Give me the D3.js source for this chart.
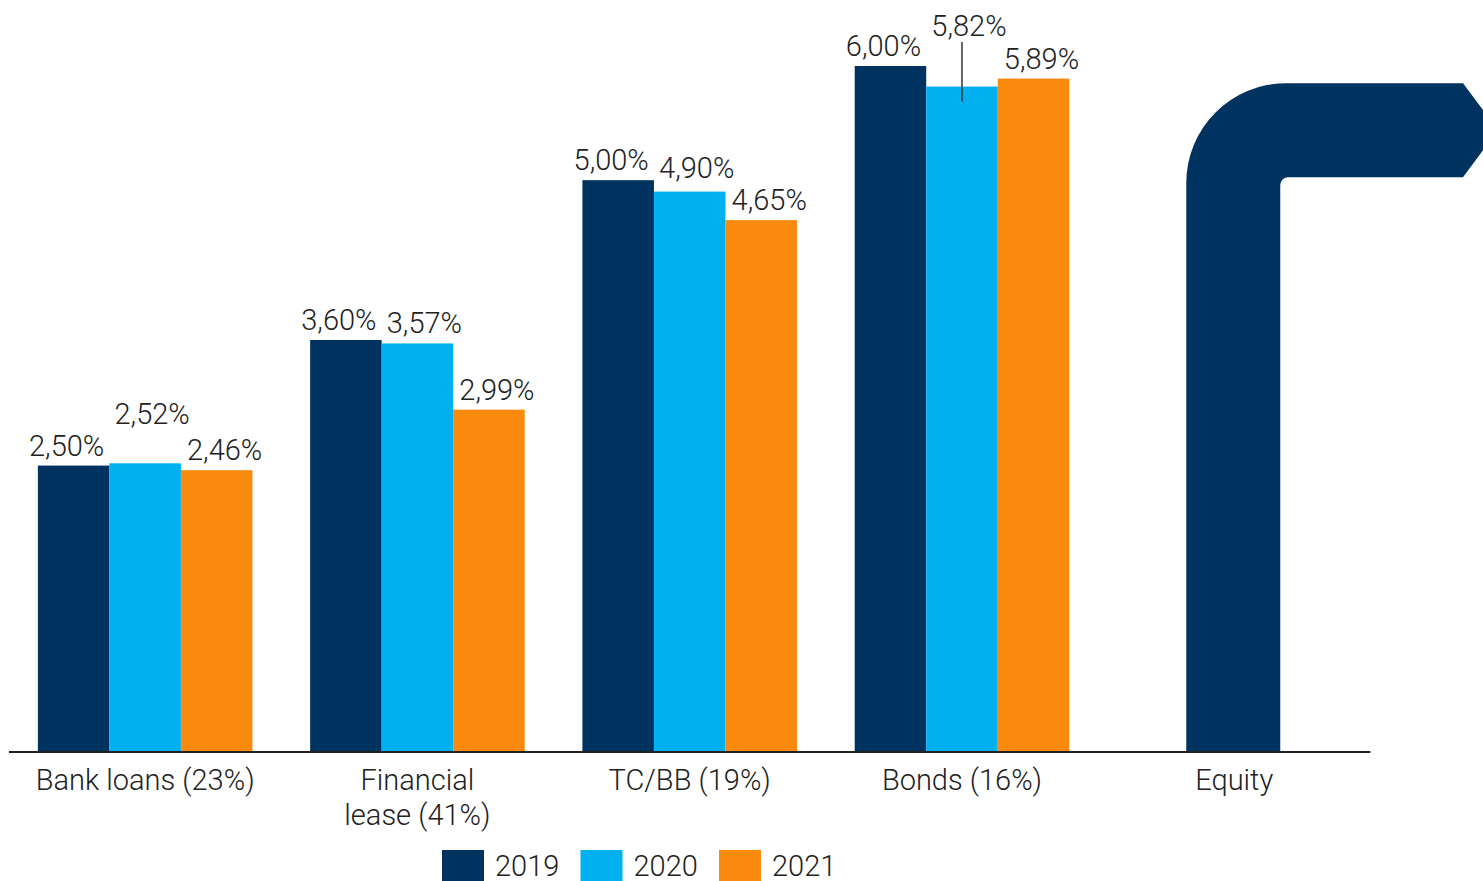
<!DOCTYPE html>
<html>
<head>
<meta charset="utf-8">
<script src="https://cdn.jsdelivr.net/npm/d3@7"></script>
<style>
  html, body { margin: 0; padding: 0; background: #fff; overflow: hidden; }
  svg { display: block; }
  text { font-family: Roboto, "Noto Sans", sans-serif; font-weight: 300; fill: #222; }
</style>
</head>
<body>
<svg id="chart" width="1483" height="881"></svg>
<script>
// ---- data ----
const categories = ["Bank loans (23%)", "Financial\nlease (41%)", "TC/BB (19%)", "Bonds (16%)", "Equity"];
const series = ["2019", "2020", "2021"];
const values2019 = [2.50, 3.60, 5.00, 6.00, null];
const values2020 = [2.52, 3.57, 4.90, 5.82, null];
const values2021 = [2.46, 2.99, 4.65, 5.89, null];
const labels2019 = ["2,50%", "3,60%", "5,00%", "6,00%", ""];
const labels2020 = ["2,52%", "3,57%", "4,90%", "5,82%", ""];
const labels2021 = ["2,46%", "2,99%", "4,65%", "5,89%", ""];
const equityLevel = 5.85; // decorative equity arrow height
const colors = ["#00335F", "#00B0F0", "#FA8A0E"];

// ---- layout ----
const svg = d3.select("#chart");
const baseY = 751;
const y = d3.scaleLinear().domain([0, 6]).range([baseY, 66]);
const x0 = d3.scaleBand().domain(categories).range([9, 1370.4]).paddingInner(0.212).paddingOuter(0.106);
const x1 = d3.scaleBand().domain(series).range([0, x0.bandwidth()]);
const color = d3.scaleOrdinal().domain(series).range(colors);

const valuesBySeries = [values2019, values2020, values2021];
const labelsBySeries = [labels2019, labels2020, labels2021];
const labelDx = [-7, 7, 8];
// extra lift for crowded labels [series][category]
const labelLift = [[0, 0, 0, 0], [29, 0, 4, 41], [0, 0, 0, 0]];
const FS = 29;

const data = [];
categories.forEach((c, ci) => {
  series.forEach((s, si) => {
    const v = valuesBySeries[si][ci];
    if (v != null) data.push({ c, ci, s, si, v, label: labelsBySeries[si][ci] });
  });
});

const g = svg.append("g");

// bars
g.selectAll("rect.bar").data(data).enter().append("rect")
  .attr("class", "bar")
  .attr("x", d => x0(d.c) + x1(d.s))
  .attr("y", d => y(d.v))
  .attr("width", x1.bandwidth())
  .attr("height", d => baseY - y(d.v))
  .attr("fill", d => color(d.s));

// equity decorative arrow
(function () {
  const cx = x0("Equity") + x0.bandwidth() / 2;
  const thick = 94;
  const left = cx - thick / 2 - 1, right = left + thick;
  const top = y(equityLevel), bot = top + thick;
  const R = 100, r = 8;
  const endX = 1463, tipX = 1498;
  const p = d3.path();
  p.moveTo(left, baseY);
  p.lineTo(left, top + R);
  p.arcTo(left, top, left + R, top, R);
  p.lineTo(endX, top);
  p.lineTo(tipX, (top + bot) / 2);
  p.lineTo(endX, bot);
  p.lineTo(right + r, bot);
  p.arcTo(right, bot, right, bot + r, r);
  p.lineTo(right, baseY);
  p.closePath();
  g.append("path").attr("d", p.toString()).attr("fill", colors[0]);
})();

// axis line
g.append("line")
  .attr("x1", x0.range()[0]).attr("x2", x0.range()[1])
  .attr("y1", baseY + 1).attr("y2", baseY + 1)
  .attr("stroke", "#222").attr("stroke-width", 2);

// value labels
g.selectAll("text.val").data(data).enter().append("text")
  .attr("class", "val")
  .attr("x", d => x0(d.c) + x1(d.s) + x1.bandwidth() / 2 + labelDx[d.si])
  .attr("y", d => y(d.v) - 10 - labelLift[d.si][d.ci])
  .attr("text-anchor", "middle")
  .attr("font-size", FS)
  .text(d => d.label);

// leader line for 5,82%
{
  const d = data.find(d => d.si === 1 && d.ci === 3);
  const lx = x0(d.c) + x1(d.s) + x1.bandwidth() / 2;
  g.append("line")
    .attr("x1", lx).attr("x2", lx)
    .attr("y1", 42).attr("y2", y(d.v) + 15)
    .attr("stroke", "#333").attr("stroke-width", 1.5);
}

// category labels
categories.forEach(c => {
  const lines = c.split("\n");
  const t = g.append("text")
    .attr("x", x0(c) + x0.bandwidth() / 2)
    .attr("y", baseY + 39)
    .attr("text-anchor", "middle")
    .attr("font-size", FS);
  lines.forEach((ln, i) => {
    t.append("tspan")
      .attr("x", x0(c) + x0.bandwidth() / 2)
      .attr("dy", i === 0 ? 0 : 35)
      .text(ln);
  });
});

// legend
const legend = g.append("g").attr("transform", "translate(442,850)");
series.forEach((s, i) => {
  const lg = legend.append("g").attr("transform", `translate(${i * 138.5},0)`);
  lg.append("rect").attr("width", 42).attr("height", 40).attr("fill", color(s));
  lg.append("text").attr("x", 53).attr("y", 26).attr("font-size", FS).text(s);
});
</script>
</body>
</html>
